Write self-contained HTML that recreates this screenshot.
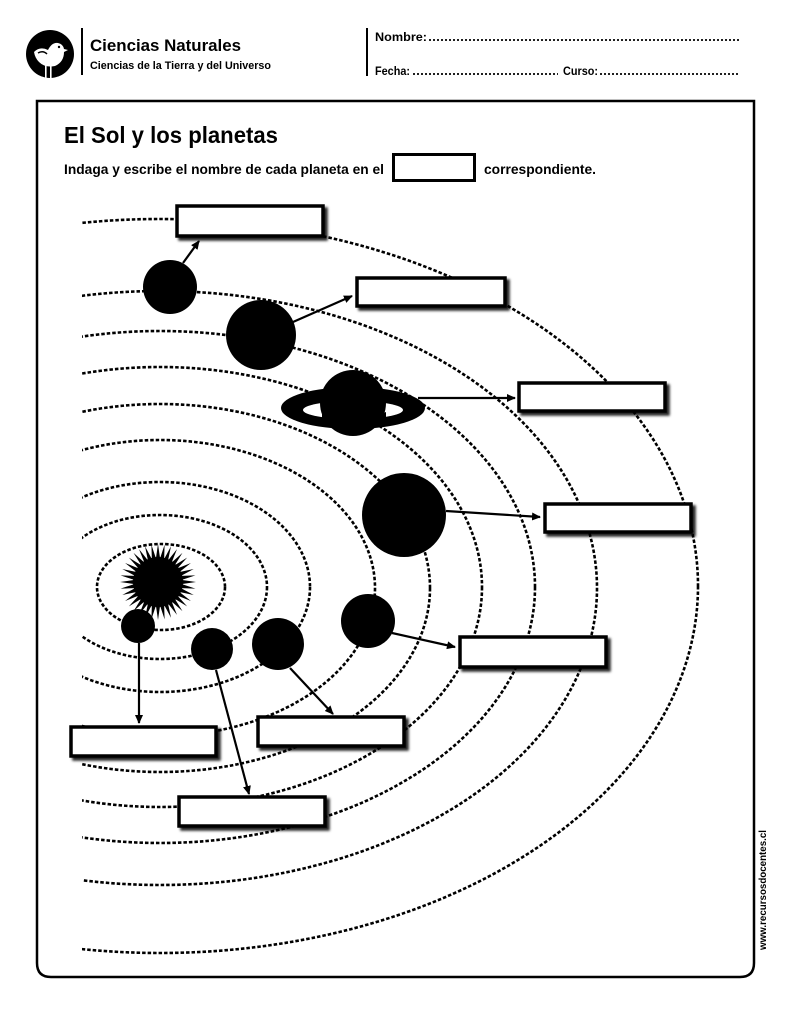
<!DOCTYPE html>
<html><head><meta charset="utf-8"><style>
html,body{margin:0;padding:0;background:#fff;}
svg{display:block;}
text{font-family:"Liberation Sans Narrow","Liberation Sans",sans-serif;fill:#000;}
</style></head><body>
<svg width="791" height="1024" viewBox="0 0 791 1024" xmlns="http://www.w3.org/2000/svg" xmlns:xlink="http://www.w3.org/1999/xlink">
<defs>
<clipPath id="c"><rect x="82" y="190" width="700" height="780"/></clipPath>
<filter id="sh" x="-10%" y="-30%" width="130%" height="180%"><feDropShadow dx="3" dy="3" stdDeviation="1.2" flood-color="#000" flood-opacity="0.85"/></filter>
<marker id="ar" markerWidth="10" markerHeight="10" refX="8" refY="4" orient="auto" markerUnits="userSpaceOnUse"><path d="M0,0 L9,4 L0,8 Z" fill="#000"/></marker>
<path id="sp" d="M158,544 L160.6,562 L155.4,562 Z" fill="#000"/>
</defs>

<!-- header -->
<circle cx="50" cy="54" r="24" fill="#000"/>
<path d="M34,52 Q40,46 48,50 Q52,42 58,43 Q63,44 64,49 L68,50 L64,52 Q64,62 55,66 Q45,68 39,62 Q35,58 34,52 Z" fill="#fff"/>
<path d="M38,53 Q43,50 47,54" stroke="#000" stroke-width="1.5" fill="none"/>
<circle cx="59" cy="47" r="1.2" fill="#000"/>
<rect x="45" y="64" width="1.6" height="14" fill="#fff"/>
<rect x="50" y="64" width="1.6" height="14" fill="#fff"/>
<rect x="81" y="28" width="2" height="47" fill="#000"/>
<text x="90" y="51" font-size="17" font-weight="bold" textLength="151" lengthAdjust="spacingAndGlyphs">Ciencias Naturales</text>
<text x="90" y="69" font-size="11" font-weight="bold" textLength="181" lengthAdjust="spacingAndGlyphs">Ciencias de la Tierra y del Universo</text>
<rect x="366" y="28" width="2" height="48" fill="#000"/>
<text x="375" y="41" font-size="12" font-weight="bold" textLength="52" lengthAdjust="spacingAndGlyphs">Nombre:</text>
<line x1="429" y1="40" x2="740" y2="40" stroke="#000" stroke-width="1.8" stroke-dasharray="2 2"/>
<text x="375" y="75" font-size="12" font-weight="bold" textLength="35" lengthAdjust="spacingAndGlyphs">Fecha:</text>
<line x1="413" y1="74" x2="558" y2="74" stroke="#000" stroke-width="1.8" stroke-dasharray="2 2"/>
<text x="563" y="75" font-size="12" font-weight="bold" textLength="35" lengthAdjust="spacingAndGlyphs">Curso:</text>
<line x1="600" y1="74" x2="740" y2="74" stroke="#000" stroke-width="1.8" stroke-dasharray="2 2"/>

<!-- frame -->
<path d="M37,101 L754,101 L754,963 Q754,977 740,977 L51,977 Q37,977 37,963 Z" fill="none" stroke="#000" stroke-width="2.5"/>
<text x="64" y="143" font-size="23" font-weight="bold" textLength="214" lengthAdjust="spacingAndGlyphs">El Sol y los planetas</text>
<text x="64" y="174" font-size="14" font-weight="bold" textLength="320" lengthAdjust="spacingAndGlyphs">Indaga y escribe el nombre de cada planeta en el</text>
<rect x="393.5" y="154.5" width="81" height="26" fill="#fff" stroke="#000" stroke-width="3"/>
<text x="484" y="174" font-size="14" font-weight="bold" textLength="112" lengthAdjust="spacingAndGlyphs">correspondiente.</text>
<text transform="translate(766,950) rotate(-90)" font-size="10" font-weight="bold" textLength="120" lengthAdjust="spacingAndGlyphs">www.recursosdocentes.cl</text>

<!-- orbits -->
<g clip-path="url(#c)" fill="none" stroke="#000" stroke-width="2.6" stroke-dasharray="3.5 2">
<ellipse cx="161" cy="587" rx="64" ry="43"/>
<ellipse cx="160" cy="587" rx="107" ry="72"/>
<ellipse cx="160" cy="587" rx="150" ry="105"/>
<ellipse cx="160" cy="588" rx="215" ry="148"/>
<ellipse cx="160" cy="588" rx="270" ry="184"/>
<ellipse cx="160" cy="587" rx="322" ry="220"/>
<ellipse cx="160" cy="587" rx="375" ry="256"/>
<ellipse cx="160" cy="588" rx="437" ry="297"/>
<ellipse cx="160" cy="586" rx="538" ry="367"/>
</g>

<!-- sun -->
<g>
<use xlink:href="#sp" href="#sp" transform="rotate(0 158 582)"/>
<use xlink:href="#sp" href="#sp" transform="rotate(10 158 582)"/>
<use xlink:href="#sp" href="#sp" transform="rotate(20 158 582)"/>
<use xlink:href="#sp" href="#sp" transform="rotate(30 158 582)"/>
<use xlink:href="#sp" href="#sp" transform="rotate(40 158 582)"/>
<use xlink:href="#sp" href="#sp" transform="rotate(50 158 582)"/>
<use xlink:href="#sp" href="#sp" transform="rotate(60 158 582)"/>
<use xlink:href="#sp" href="#sp" transform="rotate(70 158 582)"/>
<use xlink:href="#sp" href="#sp" transform="rotate(80 158 582)"/>
<use xlink:href="#sp" href="#sp" transform="rotate(90 158 582)"/>
<use xlink:href="#sp" href="#sp" transform="rotate(100 158 582)"/>
<use xlink:href="#sp" href="#sp" transform="rotate(110 158 582)"/>
<use xlink:href="#sp" href="#sp" transform="rotate(120 158 582)"/>
<use xlink:href="#sp" href="#sp" transform="rotate(130 158 582)"/>
<use xlink:href="#sp" href="#sp" transform="rotate(140 158 582)"/>
<use xlink:href="#sp" href="#sp" transform="rotate(150 158 582)"/>
<use xlink:href="#sp" href="#sp" transform="rotate(160 158 582)"/>
<use xlink:href="#sp" href="#sp" transform="rotate(170 158 582)"/>
<use xlink:href="#sp" href="#sp" transform="rotate(180 158 582)"/>
<use xlink:href="#sp" href="#sp" transform="rotate(190 158 582)"/>
<use xlink:href="#sp" href="#sp" transform="rotate(200 158 582)"/>
<use xlink:href="#sp" href="#sp" transform="rotate(210 158 582)"/>
<use xlink:href="#sp" href="#sp" transform="rotate(220 158 582)"/>
<use xlink:href="#sp" href="#sp" transform="rotate(230 158 582)"/>
<use xlink:href="#sp" href="#sp" transform="rotate(240 158 582)"/>
<use xlink:href="#sp" href="#sp" transform="rotate(250 158 582)"/>
<use xlink:href="#sp" href="#sp" transform="rotate(260 158 582)"/>
<use xlink:href="#sp" href="#sp" transform="rotate(270 158 582)"/>
<use xlink:href="#sp" href="#sp" transform="rotate(280 158 582)"/>
<use xlink:href="#sp" href="#sp" transform="rotate(290 158 582)"/>
<use xlink:href="#sp" href="#sp" transform="rotate(300 158 582)"/>
<use xlink:href="#sp" href="#sp" transform="rotate(310 158 582)"/>
<use xlink:href="#sp" href="#sp" transform="rotate(320 158 582)"/>
<use xlink:href="#sp" href="#sp" transform="rotate(330 158 582)"/>
<use xlink:href="#sp" href="#sp" transform="rotate(340 158 582)"/>
<use xlink:href="#sp" href="#sp" transform="rotate(350 158 582)"/>
</g>
<circle cx="158" cy="582" r="25" fill="#000"/>

<!-- planets -->
<circle cx="138" cy="626" r="17" fill="#000"/>
<circle cx="212" cy="649" r="21" fill="#000"/>
<circle cx="278" cy="644" r="26" fill="#000"/>
<circle cx="368" cy="621" r="27" fill="#000"/>
<circle cx="404" cy="515" r="42" fill="#000"/>
<ellipse cx="353" cy="408" rx="72" ry="21" fill="#000"/>
<ellipse cx="353" cy="410" rx="50" ry="9" fill="#fff"/>
<circle cx="353" cy="403" r="33" fill="#000"/>
<path d="M322,412 Q353,425 386,412 L386,420 Q353,432 322,420 Z" fill="#000"/>
<circle cx="261" cy="335" r="35" fill="#000"/>
<circle cx="170" cy="287" r="27" fill="#000"/>

<!-- arrows -->
<g stroke="#000" stroke-width="2.2" marker-end="url(#ar)">
<line x1="183" y1="263" x2="199" y2="241"/>
<line x1="293" y1="322" x2="352" y2="296"/>
<line x1="418" y1="398" x2="515" y2="398"/>
<line x1="446" y1="511" x2="540" y2="517"/>
<line x1="392" y1="633" x2="455" y2="647"/>
<line x1="290" y1="668" x2="333" y2="714"/>
<line x1="216" y1="670" x2="249" y2="794"/>
<line x1="139" y1="643" x2="139" y2="723"/>
</g>

<!-- boxes -->
<g fill="#fff" stroke="#000" stroke-width="3.5" filter="url(#sh)">
<rect x="177" y="206" width="146" height="30"/>
<rect x="357" y="278" width="148" height="28"/>
<rect x="519" y="383" width="146" height="28"/>
<rect x="545" y="504" width="146" height="28"/>
<rect x="460" y="637" width="146" height="30"/>
<rect x="258" y="717" width="146" height="29"/>
<rect x="71" y="727" width="145" height="29"/>
<rect x="179" y="797" width="146" height="29"/>
</g>
</svg>
</body></html>
